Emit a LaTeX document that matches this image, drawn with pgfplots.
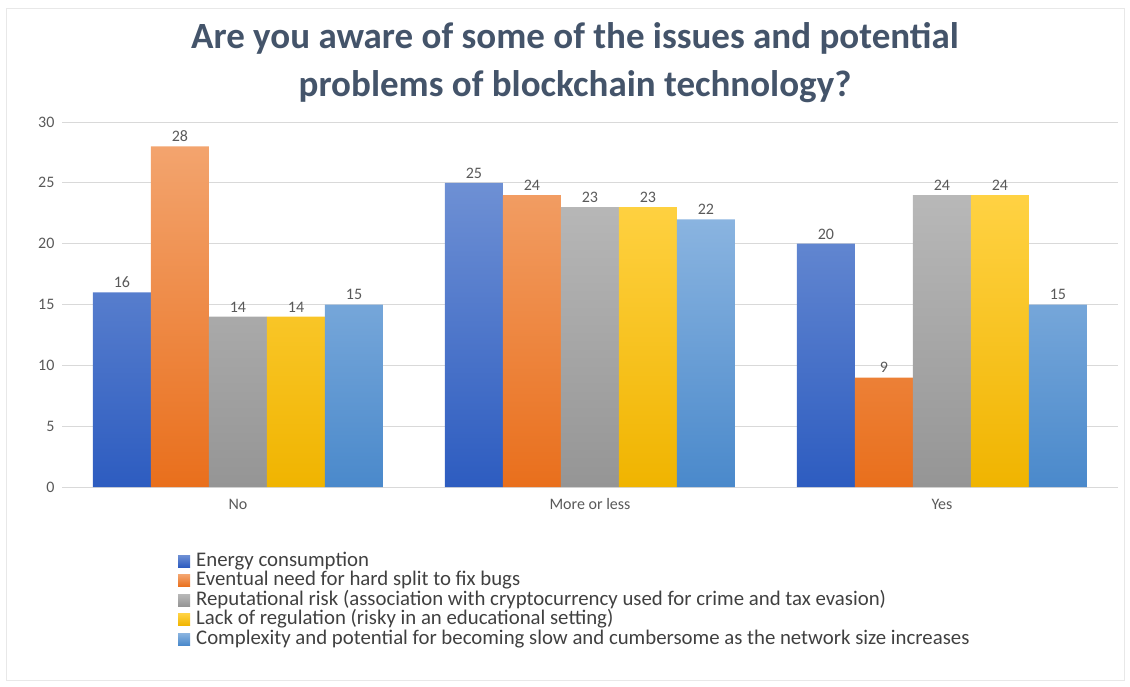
\documentclass[border=0pt]{standalone}
\usepackage{pgfplots}
\pgfplotsset{compat=1.18}
\usepackage{fontspec}
\setmainfont{Carlito}
\definecolor{ttl}{HTML}{44546A}
\definecolor{lbl}{HTML}{595959}
\definecolor{lgd}{HTML}{404040}
\definecolor{grd}{HTML}{D9D9D9}
\definecolor{c1t}{HTML}{6E90D4}\definecolor{c1b}{HTML}{2D5CC0}
\definecolor{c2t}{HTML}{F3A46E}\definecolor{c2b}{HTML}{E96F1C}
\definecolor{c3t}{HTML}{B8B8B8}\definecolor{c3b}{HTML}{959595}
\definecolor{c4t}{HTML}{FFD243}\definecolor{c4b}{HTML}{F0B400}
\definecolor{c5t}{HTML}{8AB4E0}\definecolor{c5b}{HTML}{4A89CB}
\begin{document}
\begin{tikzpicture}[x=1pt,y=1pt]
\path (0,0) rectangle (1130,-686);
\draw[grd!60] (6,-8) rectangle (1124,-680);
\coordinate (O) at (62,-487);
\node[font=\fontsize{37}{48}\selectfont\bfseries, text=ttl, align=center] at (575,-63)
  {Are you aware of some of the issues and potential\\problems of blockchain technology?};
\begin{axis}[
  at={(O)}, anchor=south west,
  width=1056pt, height=365pt, scale only axis,
  ymin=0, ymax=30, xmin=-0.5, xmax=2.5,
  ytick={0,5,...,30},
  xtick={0,1,2}, xticklabels={No,More or less,Yes},
  axis line style={draw=none},
  tick style={draw=none},
  ymajorgrids, grid style={grd, line width=1pt},
  ybar=0pt, bar width=58pt,
  tick label style={font=\fontsize{16}{18}\selectfont, text=lbl},
  /pgf/number format/assume math mode=true,
  yticklabel style={xshift=-4pt},
  xticklabel style={yshift=-4pt},
  nodes near coords,
  every node near coord/.append style={font=\fontsize{16}{18}\selectfont, text=lbl, yshift=1pt},
  legend style={at={(0.107,-0.173)}, anchor=north west, draw=none, fill=none,
    font=\fontsize{20.8}{19.5}\selectfont, text=lgd, row sep=0pt,
    nodes={inner ysep=0pt, inner xsep=2pt, text height=14pt, text depth=5.5pt}},
  legend cell align=left,
  legend image code/.code={\path (0pt,0pt) -- (16pt,0pt); \fill[#1] (0pt,-5pt) rectangle (12pt,7pt);},
]
\addplot[draw=none, top color=c1t, bottom color=c1b] coordinates {(0,16) (1,25) (2,20)};
\addplot[draw=none, top color=c2t, bottom color=c2b] coordinates {(0,28) (1,24) (2,9)};
\addplot[draw=none, top color=c3t, bottom color=c3b] coordinates {(0,14) (1,23) (2,24)};
\addplot[draw=none, top color=c4t, bottom color=c4b] coordinates {(0,14) (1,23) (2,24)};
\addplot[draw=none, top color=c5t, bottom color=c5b] coordinates {(0,15) (1,22) (2,15)};
\legend{Energy consumption,
Eventual need for hard split to fix bugs,
Reputational risk (association with cryptocurrency used for crime and tax evasion),
Lack of regulation (risky in an educational setting),
Complexity and potential for becoming slow and cumbersome as the network size increases}
\end{axis}
\end{tikzpicture}
\end{document}
